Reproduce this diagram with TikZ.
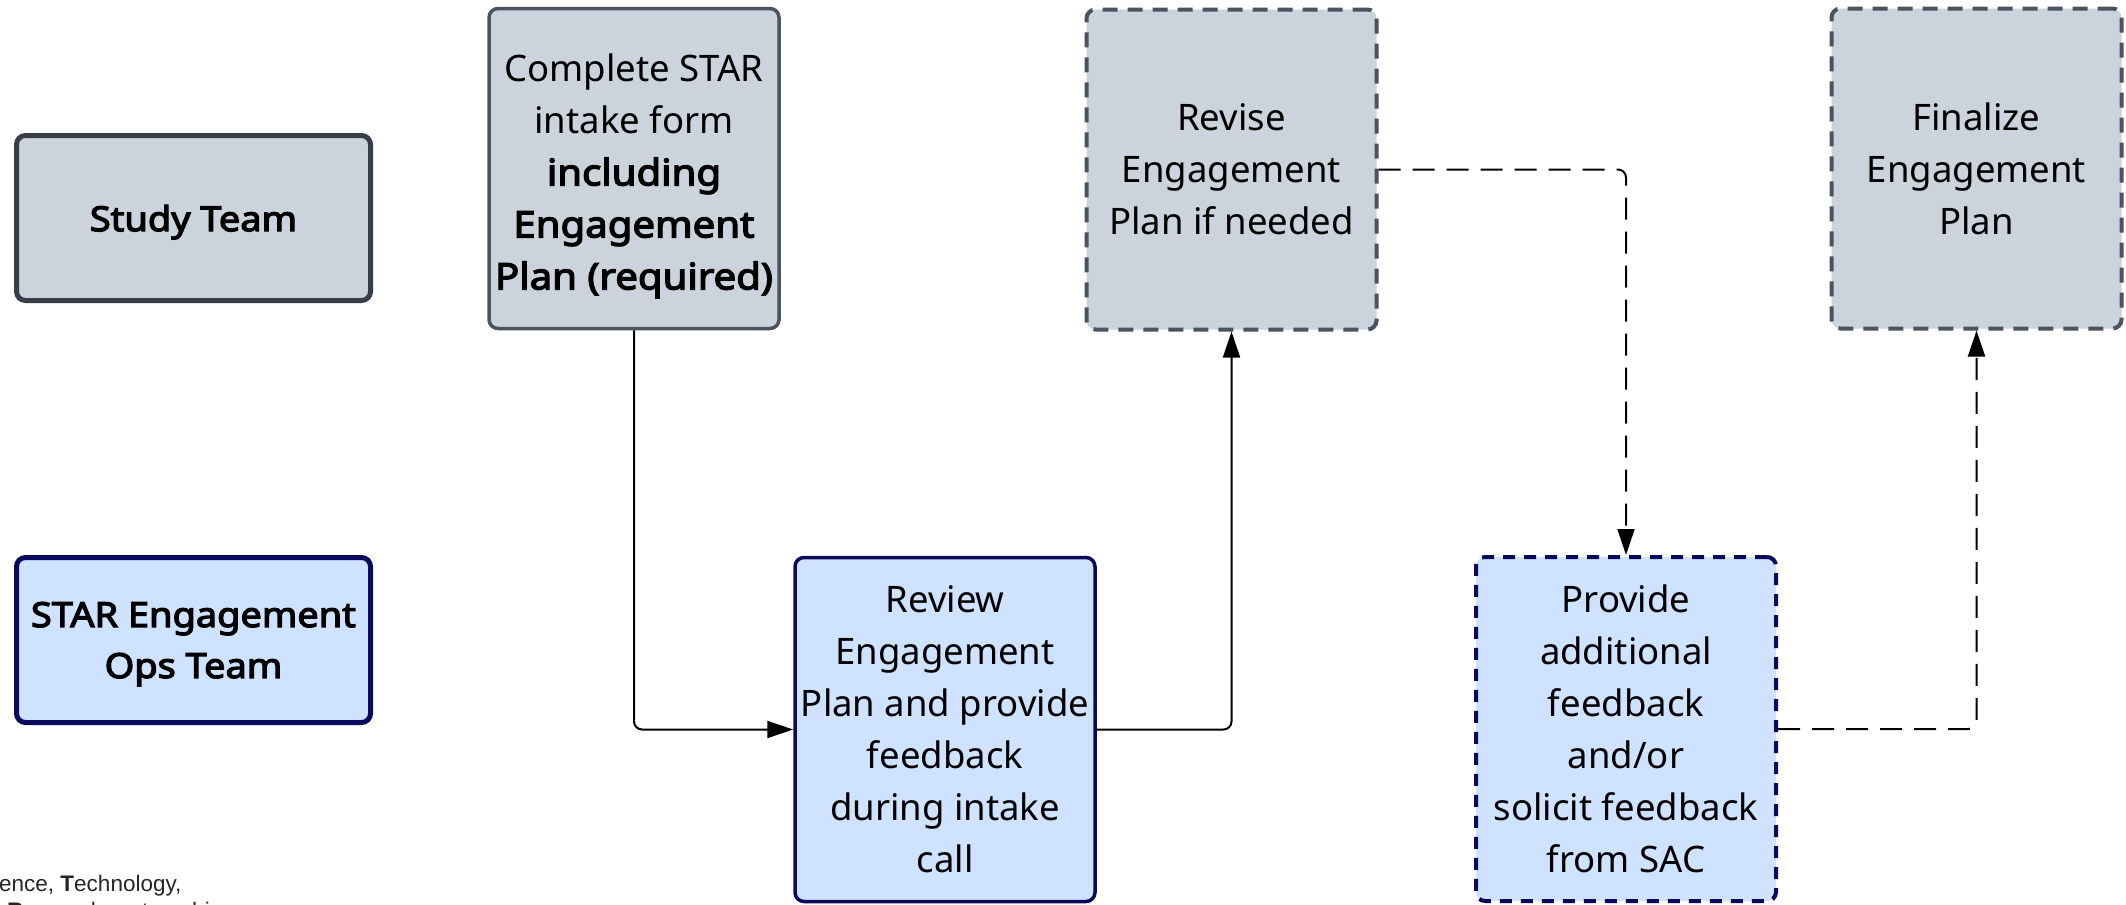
\documentclass[tikz,border=0pt]{standalone}
\usepackage{fontspec}
\setmainfont{Noto Sans}
\newfontfamily\heavy{Noto Sans}[FakeBold=3.6, FakeStretch=1.1]
\newfontfamily\notefont{Liberation Sans}
\newcommand\strongword[1]{{\heavy #1}}
\usetikzlibrary{arrows.meta}

\definecolor{slatefill}{HTML}{CBD3DC}
\definecolor{slateedge}{HTML}{4B5360}
\definecolor{teamedge}{HTML}{383E47}
\definecolor{bluefill}{HTML}{CFE2FF}
\definecolor{navyedge}{HTML}{0A0A5C}

\tikzset{
  boxtext/.style={font=\fontsize{36.5}{52}\selectfont, align=center,
    inner sep=0pt, text depth=0pt},
  lane/.style={boxtext, rounded corners=9pt, line width=5pt,
    minimum width=354pt, minimum height=165pt,
    font=\fontsize{34.5}{51}\selectfont\heavy},
  greylane/.style={lane, draw=teamedge, fill=slatefill},
  bluelane/.style={lane, draw=navyedge, fill=bluefill},
  greystep/.style={boxtext, rounded corners=9pt, draw=slateedge, fill=slatefill,
    line width=3.5pt, minimum width=290pt, minimum height=320pt},
  greyopt/.style={greystep, line width=4pt, dash pattern=on 15pt off 10pt},
  bluestep/.style={boxtext, rounded corners=9pt, draw=navyedge, fill=bluefill,
    line width=3.5pt, minimum width=300pt, minimum height=344pt},
  blueopt/.style={bluestep, line width=4pt, dash pattern=on 12pt off 9pt},
  flow/.style={line width=2pt, rounded corners=8pt,
    -{Triangle[length=26pt,width=17pt]}},
  optflow/.style={flow, dash pattern=on 22pt off 12pt},
  note/.style={font=\notefont\fontsize{22.5}{26}\selectfont, inner sep=0pt,
    anchor=base west, text=black!85}
}

\begin{document}
\begin{tikzpicture}[x=1pt,y=-1pt]
\useasboundingbox[fill=white] (0,0) rectangle (2126,905);

% swimlane labels
\node[greylane] (study) at (193.5,218) {Study Team};
\node[bluelane] (ops) at (193.5,640) {STAR Engagement\\Ops Team};

% process steps
\node[greystep] (complete) at (634,168.5) {};
\node[boxtext] (completetext) at ([yshift=-3pt]complete.center)
  {Complete STAR\\intake form\\\strongword{including}\\\strongword{Engagement}\\\strongword{Plan (required)}};
\node[greyopt] (revise) at (1231.5,169.5) {Revise\\Engagement\\Plan if needed};
\node[greyopt] (finalize) at (1976.5,168.5) {Finalize\\Engagement\\Plan};
\node[bluestep] (review) at (945,729.5)
  {Review\\Engagement\\Plan and provide\\feedback\\during intake\\call};
\node[blueopt] (provide) at (1626,729)
  {Provide\\additional\\feedback\\and/or\\solicit feedback\\from SAC};

% connectors
\draw[flow] (complete.south) |- (review.west);
\draw[flow] (review.east) -| (revise.south);
\draw[optflow] (revise.east) -| (provide.north);
\draw[optflow] (provide.east) -| (finalize.south);

% footnote, running off the lower left corner
\node[note] (note1) at (-1,891) {ence, \textbf{T}echnology,};
\node[note] (note2) at (7,918) {\textbf{R}esearch partnership};
\end{tikzpicture}
\end{document}
